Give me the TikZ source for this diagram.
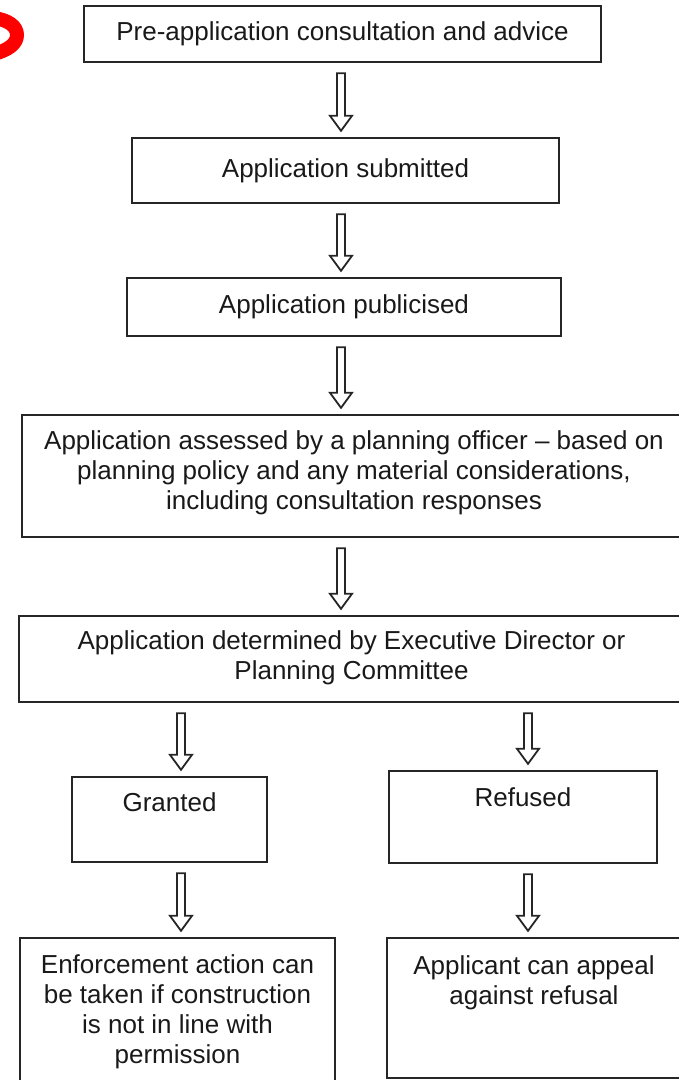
\documentclass[tikz,border=0pt]{standalone}
\usepackage{fontspec}
\setmainfont{Liberation Sans}
\usepackage{tikz}
\usetikzlibrary{calc}

\tikzset{
  flowbox/.style={draw=black!85, line width=2.4pt, rectangle, align=center,
    text=black!90, font=\fontsize{26}{30}\selectfont, inner sep=0pt},
  oneline/.style={text height=19pt, text depth=#1},
  hollowarrow/.style={draw=black!85, line width=1.8pt, fill=white, line join=miter}
}

% hollow block arrow from the bottom of #2 down to the top of #3, #1 = x shift
\newcommand{\flowarrow}[3][0]{%
  \draw[hollowarrow] let \p1=($(#2.south -| #3.north)+(#1,10)$), \p2=($(#3.north)+(#1,-6)$) in
    (\x1-4pt,\y1) -- (\x1-4pt,\y2+15pt) -- (\x1-11pt,\y2+15pt) -- (\x1,\y2)
    -- (\x1+11pt,\y2+15pt) -- (\x1+4pt,\y2+15pt) -- (\x1+4pt,\y1) -- cycle;
}

\begin{document}
\begin{tikzpicture}[x=1pt,y=-1pt]
   \useasboundingbox (0,0) rectangle (679,1080);
   \clip (0,0) rectangle (679,1080);
   % red mark in the corner
   \draw[red, line width=14pt, line cap=round, line join=round]
     (-6,18) .. controls (8,20) and (17,26) .. (17,35) .. controls (17,44) and (8,50) .. (-6,54);

   \node[flowbox, oneline=5.5pt, minimum width=517, minimum height=56] (pre) at (342.5,34) {Pre-application consultation and advice};
   \node[flowbox, oneline=5.5pt, minimum width=427, minimum height=65] (submitted) at (345.5,170.5) {Application submitted};
   \node[flowbox, oneline=5.5pt, minimum width=434, minimum height=58] (publicised) at (344,307) {Application publicised};
   \node[flowbox, minimum width=664, minimum height=122, text depth=12.5pt] (assessed) at (354,476)
     {Application assessed by a planning officer – based on\\ planning policy and any material considerations,\\ including consultation responses};
   \node[flowbox, minimum width=665, minimum height=86, text depth=7.5pt] (determined) at (351.5,659)
     {Application determined by Executive Director or\\ Planning Committee};
   \node[flowbox, oneline=36pt, minimum width=195, minimum height=85] (granted) at (169.5,819.5) {Granted};
   \node[flowbox, oneline=41pt, minimum width=268, minimum height=92] (refused) at (523,817) {Refused};
   \node[flowbox, minimum width=315, minimum height=152, text depth=10pt] (enforce) at (177.5,1014)
     {Enforcement action can\\ be taken if construction\\ is not in line with\\ permission};
   \node[flowbox, minimum width=294, minimum height=140, text depth=56.5pt] (appeal) at (534,1008)
     {Applicant can appeal\\ against refusal};

   \flowarrow[-4.5]{pre}{submitted}
   \flowarrow[-3]{submitted}{publicised}
   \flowarrow[-13]{publicised}{assessed}
   \flowarrow[-10.5]{assessed}{determined}
   \flowarrow[11.5]{determined}{granted}
   \flowarrow[5]{determined}{refused}
   \flowarrow[3.5]{granted}{enforce}
   \flowarrow[-6]{refused}{appeal}
\end{tikzpicture}
\end{document}
